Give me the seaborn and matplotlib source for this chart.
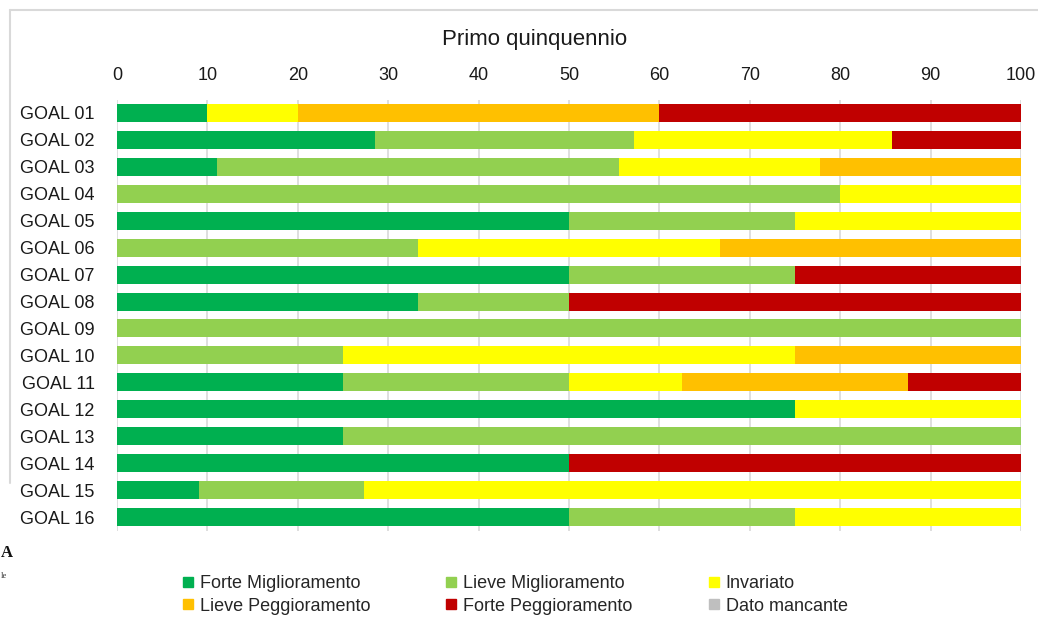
import matplotlib
matplotlib.use('Agg')
import matplotlib.pyplot as plt
from matplotlib.lines import Line2D
import seaborn as sns
import pandas as pd

# === Data ===

goals = [f'GOAL {i:02d}' for i in range(1, 17)]
categories = ['Forte Miglioramento', 'Lieve Miglioramento', 'Invariato',
              'Lieve Peggioramento', 'Forte Peggioramento', 'Dato mancante']
colors = ['#00b050', '#92d050', '#ffff00', '#ffc000', '#c00000', '#bfbfbf']

forte_miglioramento = [10, 28.57, 11.11, 0, 50, 0, 50, 33.33, 0, 0, 25, 75, 25, 50, 9.09, 50]
lieve_miglioramento = [0, 28.57, 44.44, 80, 25, 33.33, 25, 16.67, 100, 25, 25, 0, 75, 0, 18.18, 25]
invariato = [10, 28.57, 22.22, 20, 25, 33.33, 0, 0, 0, 50, 12.5, 25, 0, 0, 72.73, 25]
lieve_peggioramento = [40, 0, 22.22, 0, 0, 33.34, 0, 0, 0, 25, 25, 0, 0, 0, 0, 0]
forte_peggioramento = [40, 14.29, 0, 0, 0, 0, 25, 50, 0, 0, 12.5, 0, 0, 50, 0, 0]
dato_mancante = [0] * 16
xticks = list(range(0, 101, 10))

# === Setup ===

sns.set_theme(style='white')
plt.rcParams['font.family'] = ['Liberation Sans', 'DejaVu Sans']

df = pd.DataFrame({
    categories[0]: forte_miglioramento,
    categories[1]: lieve_miglioramento,
    categories[2]: invariato,
    categories[3]: lieve_peggioramento,
    categories[4]: forte_peggioramento,
    categories[5]: dato_mancante,
}, index=goals)
cum = df.cumsum(axis=1)

fig = plt.figure(figsize=(10.38, 6.19), dpi=100)
ax = fig.add_axes([117 / 1038, 1 - 530.5 / 619, 904 / 1038, 431 / 619])

# Stacked bars: draw cumulative totals from last to first so they overlap.
for cat, col in reversed(list(zip(categories, colors))):
    sns.barplot(x=cum[cat].values, y=goals, orient='h', color=col,
                saturation=1, width=0.67, ax=ax, linewidth=0)

ax.set_xlim(0, 100)
ax.set_ylim(15.5, -0.5)
ax.set_xticks(xticks)
ax.xaxis.tick_top()
ax.tick_params(axis='x', length=0, pad=11, labelsize=13, colors='#1a1a1a')
ax.tick_params(axis='y', length=0, pad=16, labelsize=13, colors='#1a1a1a')
ax.set_xlabel('')
ax.set_ylabel('')
ax.grid(axis='x', color='#d9d9d9', linewidth=1.2)
ax.set_axisbelow(True)
for s in ax.spines.values():
    s.set_visible(False)

fig.text(535 / 1038, 1 - 40 / 619, 'Primo quinquennio', ha='center', va='center',
         fontsize=16, color='#1a1a1a')

# Chart frame (partly cropped).
fig.add_artist(Line2D([10 / 1038, 1], [1 - 10 / 619, 1 - 10 / 619],
                      color='#d9d9d9', linewidth=1.5, transform=fig.transFigure))
fig.add_artist(Line2D([10 / 1038, 10 / 1038], [1 - 10 / 619, 1 - 483 / 619],
                      color='#d9d9d9', linewidth=1.5, transform=fig.transFigure))

# Logo fragment at the bottom left.
fig.text(1 / 1038, 1 - 553 / 619, 'A', ha='left', va='center', fontsize=12,
         fontweight='bold', color='#111111', family='Liberation Serif')
fig.text(1 / 1038, 1 - 576 / 619, 'le', ha='left', va='center', fontsize=6,
         color='#333333', family='Liberation Serif')

# Legend, row-wise order in 3 columns.
handles = [Line2D([], [], marker='s', linestyle='', markersize=6.5,
                  markerfacecolor=c, markeredgecolor=c) for c in colors]
order = [0, 3, 1, 4, 2, 5]
fig.legend([handles[i] for i in order], [categories[i] for i in order],
           ncol=3, loc='center', bbox_to_anchor=(515 / 1038, 1 - 595 / 619),
           frameon=False, fontsize=13, handlelength=0.6, handletextpad=0.35,
           columnspacing=4.2, labelspacing=0.3, borderpad=0)

plt.savefig('out.png', dpi=100)
